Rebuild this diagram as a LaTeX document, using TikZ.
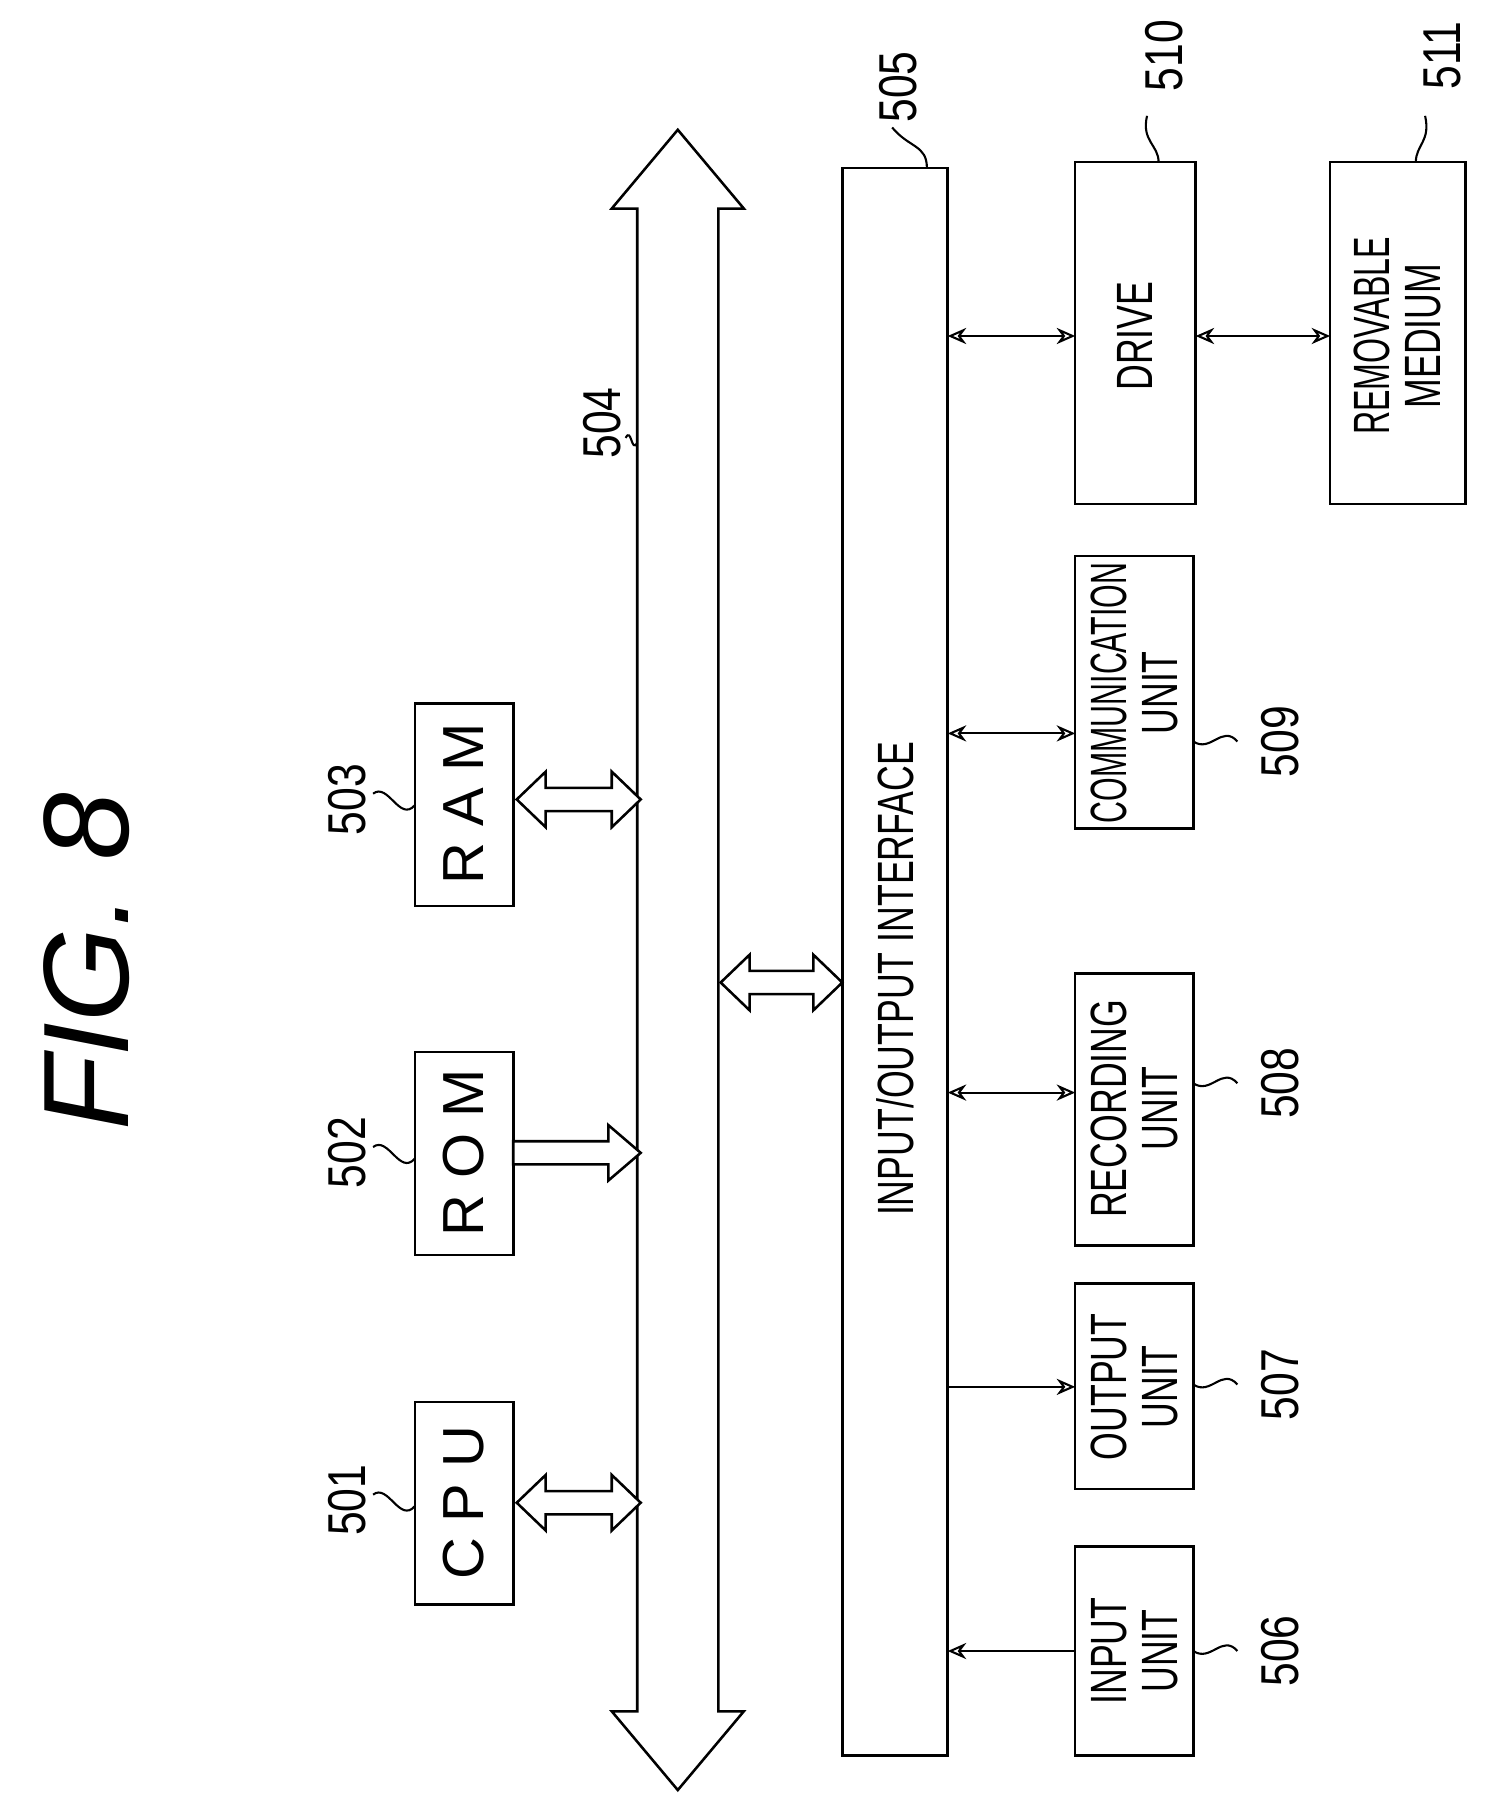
\documentclass[tikz,border=0pt]{standalone}
\usepackage{fontspec}
\setmainfont{Liberation Sans}
\newfontfamily\narrowf[FakeStretch=0.7]{Liberation Sans}
\newfontfamily\digf[FakeStretch=0.8]{Liberation Sans}
\usetikzlibrary{arrows.meta}
\begin{document}
\begin{tikzpicture}[x=1pt,y=-1pt,line width=2.2pt,
  box/.style={draw,minimum width=#1},
  ut/.style={font=\fontsize{44}{44}\narrowf,align=center,rotate=90},
  lab/.style={font=\fontsize{46}{46}\digf,rotate=90},
  thin/.style={line width=1.8pt,{Stealth[length=16pt,width=14pt,open]}-{Stealth[length=16pt,width=14pt,open]}},
  hol/.style={draw,line width=2.2pt,fill=white}]
\useasboundingbox (0,0) rectangle (1300,1551);
\node[rotate=90,font=\fontsize{105}{105}\itshape] (fig) at (75,830) {FIG. 8};
% CPU/ROM/RAM
\draw (358,1210) rectangle (443,1385); \node[rotate=90,font=\fontsize{50}{50}\selectfont] (cpu) at (400,1297) {C P U};
\draw (358,908) rectangle (443,1083); \node[rotate=90,font=\fontsize{50}{50}\selectfont] (rom) at (400,995) {R O M};
\draw (358,607) rectangle (443,782); \node[rotate=90,font=\fontsize{50}{50}\selectfont] (ram) at (400,694) {R A M};
\node[lab] (l501) at (300,1295) {501}; \draw[line width=1.8pt] (322,1290) .. controls (335,1280) and (345,1315) .. (358,1300);
\node[lab] (l502) at (300,995) {502}; \draw[line width=1.8pt] (322,990) .. controls (335,980) and (345,1015) .. (358,1000);
\node[lab] (l503) at (300,690) {503}; \draw[line width=1.8pt] (322,685) .. controls (335,675) and (345,710) .. (358,695);
% bus
\draw[hol] (550,180) -- (528,180) -- (585,112) -- (642,180) -- (620,180) -- (620,1477) -- (642,1477) -- (585,1545) -- (528,1477) -- (550,1477) -- cycle;
\node[lab] (l504) at (520,365) {504}; \draw[line width=1.8pt] (540,378) .. controls (545,368) and (545,392) .. (550,382);
% hollow connectors
\newcommand\hdbl[3]{\draw[hol] (#1+25,#3-10) -- (#1+25,#3-24) -- (#1,#3) -- (#1+25,#3+24) -- (#1+25,#3+10) -- (#2-25,#3+10) -- (#2-25,#3+24) -- (#2,#3) -- (#2-25,#3-24) -- (#2-25,#3-10) -- cycle;}
\hdbl{446}{553}{1297}
\hdbl{446}{553}{690}
\hdbl{622}{727}{848}
\draw[hol] (443,985) -- (525,985) -- (525,971) -- (553,995) -- (525,1019) -- (525,1005) -- (443,1005) -- cycle;
% IO
\draw (727,145) rectangle (818,1515);
\node[ut,font=\fontsize{44}{44}\narrowf] (io) at (773,845) {INPUT/OUTPUT INTERFACE};
\node[lab] (l505) at (775,75) {505}; \draw[line width=1.8pt] (800,145) .. controls (800,125) and (785,128) .. (770,110);
% units
\draw (928,1335) rectangle (1030,1515); \node[ut] (in) at (979,1425) {INPUT\\UNIT};
\draw (928,1108) rectangle (1030,1285); \node[ut] (out) at (979,1197) {OUTPUT\\UNIT};
\draw (928,840) rectangle (1030,1075); \node[ut] (rec) at (979,957) {RECORDING\\UNIT};
\draw (928,480) rectangle (1030,715); \node[ut] (com) at (979,598) {\scalebox{0.85}[1]{COMMUNICATION}\\UNIT};
\draw (928,140) rectangle (1032,435); \node[ut] (drv) at (980,290) {DRIVE};
\draw (1148,140) rectangle (1265,435); \node[ut] (med) at (1206,290) {\scalebox{0.9}[1]{REMOVABLE}\\MEDIUM};
\foreach \n/\y in {506/1425,507/1195,508/935,509/640}{
  \node[lab] at (1105,\y) {\n};
  \draw[line width=1.8pt] (1030,\y) .. controls (1045,\y+10) and (1055,\y-15) .. (1068,\y);}
\node[lab] (l510) at (1005,48) {510}; \draw[line width=1.8pt] (1000,140) .. controls (1000,125) and (985,122) .. (990,100);
\node[lab] (l511) at (1245,48) {511}; \draw[line width=1.8pt] (1222,140) .. controls (1222,125) and (1235,122) .. (1230,100);
% thin arrows
\draw[line width=1.8pt,{Stealth[length=16pt,width=14pt,open]}-] (818,1425) -- (928,1425);
\draw[line width=1.8pt,-{Stealth[length=16pt,width=14pt,open]}] (818,1197) -- (928,1197);
\draw[thin] (818,943) -- (928,943);
\draw[thin] (818,633) -- (928,633);
\draw[thin] (818,290) -- (928,290);
\draw[thin] (1032,290) -- (1148,290);
\end{tikzpicture}
\end{document}
